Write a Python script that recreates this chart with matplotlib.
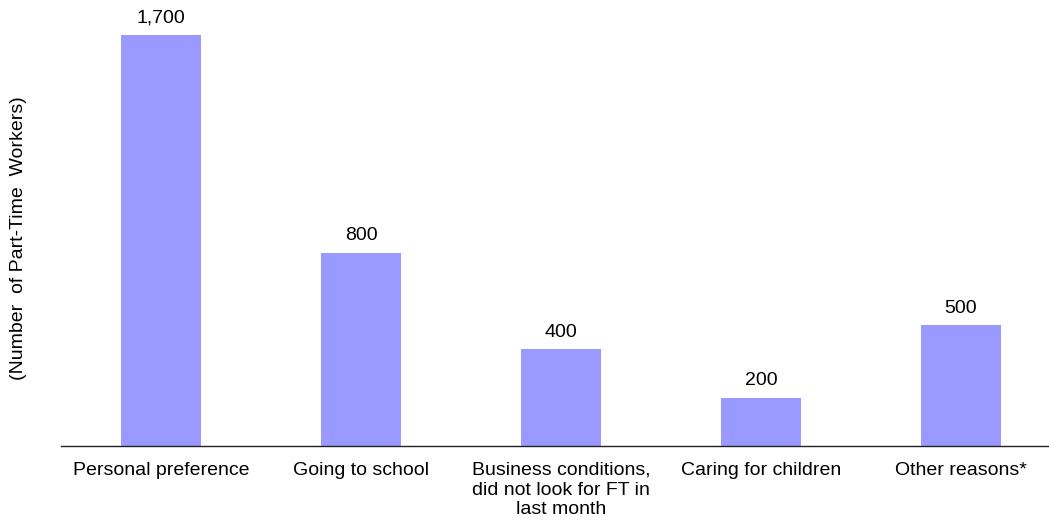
import matplotlib.pyplot as plt

# reasons for part-time work
reasons = ['Personal preference', 'Going to school',
           'Business conditions,\ndid not look for FT in\nlast month',
           'Caring for children', 'Other reasons*']
workers = [1700, 800, 400, 200, 500]
value_labels = ['1,700', '800', '400', '200', '500']

plt.rcParams['font.family'] = ['Liberation Sans', 'DejaVu Sans']

fig = plt.figure(figsize=(10.49, 5.27), dpi=100)
# axes placed in pixel terms: left edge 61px, baseline at 446px
ax = fig.add_axes([61 / 1049, 81 / 527, 1000 / 1049, 435 / 527])

x = range(len(reasons))
bars = ax.bar(x, workers, width=0.4, color='#9999FF')

for b, lab in zip(bars, value_labels):
    ax.annotate(lab, (b.get_x() + b.get_width() / 2, b.get_height()),
                xytext=(0, 6), textcoords='offset points',
                ha='center', va='bottom', fontsize=14)

ax.set_xlim(-0.5, 4.5)
ax.set_ylim(0, 1800)
ax.set_xticks(list(x))
ax.set_xticklabels(reasons, fontsize=14, linespacing=1.2)
ax.tick_params(axis='x', length=0, pad=11.5)
ax.set_yticks([])

for s in ['top', 'right', 'left']:
    ax.spines[s].set_visible(False)
ax.spines['bottom'].set_color('#222222')
ax.spines['bottom'].set_linewidth(1)

ax.set_ylabel('(Number  of Part-Time  Workers)', fontsize=14)
ax.yaxis.set_label_coords(-0.034, 0.478)

fig.savefig('out.png', dpi=100)
